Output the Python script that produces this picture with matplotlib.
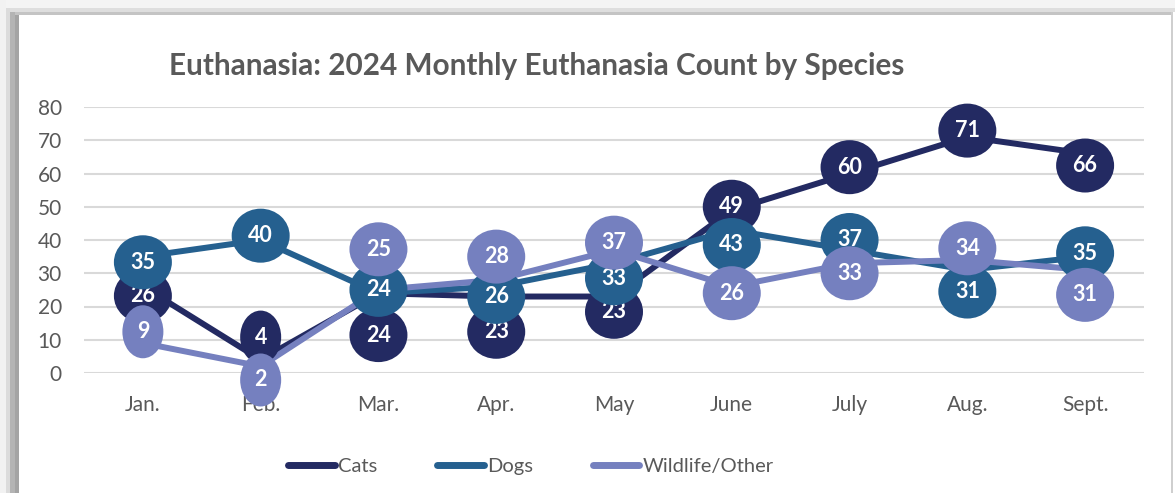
import matplotlib
matplotlib.use("Agg")
import matplotlib.pyplot as plt
import matplotlib.lines as mlines
from matplotlib.patches import Ellipse, Rectangle

plt.rcParams['font.family'] = ['Lato', 'DejaVu Sans']

months = ['Jan.', 'Feb.', 'Mar.', 'Apr.', 'May', 'June', 'July', 'Aug.', 'Sept.']
cats = [26, 4, 24, 23, 23, 49, 60, 71, 66]
dogs = [35, 40, 24, 26, 33, 43, 37, 31, 35]
wildlife = [9, 2, 25, 28, 37, 26, 33, 34, 31]

# where the label bubbles sit relative to their point (value units)
cats_lab = [-2.8, 6.8, -12.6, -10.6, -4.6, 1.0, 1.9, 1.9, -3.6]
dogs_lab = [-1.7, 1.3, 1.0, -3.1, -4.5, -4.5, 3.0, -6.5, 1.0]
wild_lab = [3.4, -4.1, 12.2, 7.0, 2.2, -2.0, -3.0, 3.5, -7.5]

series = [
    ('Cats', cats, cats_lab, '#232A62'),
    ('Dogs', dogs, dogs_lab, '#25608F'),
    ('Wildlife/Other', wildlife, wild_lab, '#7580BF'),
]

W, H = 1175, 493
fig = plt.figure(figsize=(W / 100, H / 100), dpi=100)
fig.patch.set_facecolor('white')

# frame / shadow around the chart
def frect(x0, y0, x1, y1, color):
    fig.patches.append(Rectangle((x0 / W, 1 - y1 / H), (x1 - x0) / W, (y1 - y0) / H,
                                 transform=fig.transFigure, color=color, zorder=0, lw=0))

frect(0, 0, W, 8, '#f4f4f4')
frect(0, 0, 6, H, '#f2f2f2')
frect(6, 8, W, 12, '#dedede')
frect(6, 8, 10, H, '#dcdcdc')
frect(10, 12, W - 4, 15, '#c4c4c4')
frect(10, 12, 15, H, '#b4b4b4')
frect(15, 15, 19, H, '#a4a4a4')
frect(W - 4, 12, W - 2, H, '#cfcfcf')

ax = fig.add_axes([84 / W, (H - 373) / H, (1144 - 84) / W, (373 - 107) / H])
ax.set_facecolor('none')
x = list(range(len(months)))
ax.set_xlim(-0.5, len(months) - 0.5)
ax.set_ylim(0, 80)
ax.set_yticks(range(0, 81, 10))
ax.set_xticks(x)
ax.set_xticklabels(months)
ax.grid(axis='y', color='#d9d9d9', lw=1.5)
ax.set_axisbelow(True)
for s in ax.spines.values():
    s.set_visible(False)
ax.tick_params(length=0, labelsize=15, labelcolor='#595959')
ax.tick_params(axis='y', pad=16)
ax.tick_params(axis='x', pad=16)

# bubble sizes in data units
px_x = (1144 - 84) / len(months)
px_y = (373 - 107) / 80.0

for k, (name, vals, labs, col) in enumerate(series):
    ax.plot(x, vals, color=col, lw=4.3, zorder=2, solid_capstyle='round')

for k, (name, vals, labs, col) in enumerate(series):
    for xi, v, off in zip(x, vals, labs):
        wpx = 58 if v >= 10 else 41
        hpx = 54 if v >= 10 else 53
        e = Ellipse((xi, v + off), wpx / px_x, hpx / px_y, color=col, zorder=3 + k,
                    clip_on=False, lw=0)
        ax.add_patch(e)
        ax.text(xi, v + off, str(v), color='white', fontsize=15.5, fontweight='bold',
                ha='center', va='center', zorder=3 + k, clip_on=False)

fig.text(537 / W, 1 - 66 / H, 'Euthanasia: 2024 Monthly Euthanasia Count by Species',
         ha='center', va='center', fontsize=21.4, fontweight='bold', color='#595959')

handles = [mlines.Line2D([], [], color=c, lw=5, solid_capstyle='round') for _, _, _, c in series]
labels = [n for n, _, _, _ in series]
fig.legend(handles, labels, loc='center', bbox_to_anchor=(531 / W, 1 - 466 / H), ncol=3,
           frameon=False, fontsize=14.5, labelcolor='#595959', handlelength=2.3,
           handletextpad=0.15, columnspacing=3.0)

fig.savefig('out.png', dpi=100)
